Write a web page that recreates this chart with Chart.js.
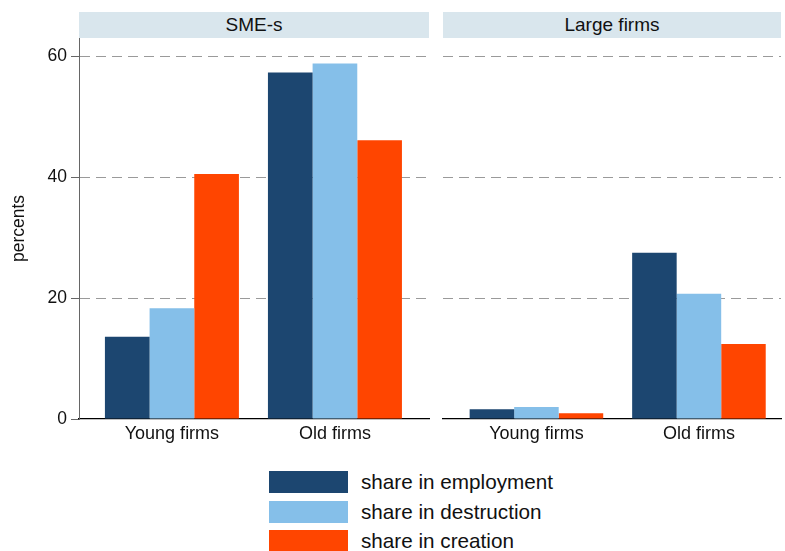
<!DOCTYPE html>
<html>
<head>
<meta charset="utf-8">
<script src="https://cdn.jsdelivr.net/npm/chart.js@4.4.1/dist/chart.umd.min.js"></script>
<style>
  body { margin: 0; background: #fff; font-family: "Liberation Sans", Arial, sans-serif; }
  #wrap { position: relative; width: 785px; height: 551px; overflow: hidden; }
  .strip { position: absolute; top: 12px; height: 26px; background: #d9e6ed; color: #111;
           font-size: 19px; line-height: 26px; text-align: center; }
  .box { position: absolute; }
  #legend { position: absolute; left: 269px; top: 471px; }
  .item { position: absolute; left: 0; width: 300px; height: 22px; }
  .sw { position: absolute; left: 0; top: 0; width: 79px; height: 22px; }
  .lab { position: absolute; left: 92px; top: -1px; font-size: 20.7px; line-height: 24px; color: #111; }
</style>
</head>
<body>
<div id="wrap">
  <div class="strip" id="h0" style="left:79px;width:350px;"></div>
  <div class="strip" id="h1" style="left:443px;width:338px;"></div>
  <div class="box" style="left:0;top:0;width:440px;height:460px;"><canvas id="c0"></canvas></div>
  <div class="box" style="left:440px;top:0;width:345px;height:460px;"><canvas id="c1"></canvas></div>
  <div id="legend"></div>
</div>
<script>
const panels = ['SME-s', 'Large firms'];
const categories = ['Young firms', 'Old firms'];
const seriesNames = ['share in employment', 'share in destruction', 'share in creation'];
const seriesColors = ['#1c4670', '#85bfe9', '#ff4500'];

// values per panel: [young, old]
const employment = { 'SME-s': [13.6, 57.3], 'Large firms': [1.6, 27.5] };
const destruction = { 'SME-s': [18.3, 58.8], 'Large firms': [2.0, 20.7] };
const creation = { 'SME-s': [40.5, 46.1], 'Large firms': [0.95, 12.4] };

const yTicks = [0, 20, 40, 60];
const yMax = 63;

const font = "'Liberation Sans', Arial, sans-serif";

function makePanel(canvasId, panel, first) {
  const series = [employment, destruction, creation];
  const datasets = series.map((s, i) => ({
    label: seriesNames[i],
    data: s[panel].map((v, j) => ({ x: j, y: v })),
    backgroundColor: seriesColors[i],
    borderWidth: 0,
    categoryPercentage: 0.822,
    barPercentage: 1.0
  }));

  return new Chart(document.getElementById(canvasId), {
    type: 'bar',
    data: { datasets },
    options: {
      responsive: true,
      maintainAspectRatio: false,
      animation: false,
      layout: { padding: first ? { left: 0, right: 11, top: 38, bottom: 0 } : { left: 3, right: 4, top: 38, bottom: 0 } },
      plugins: { legend: { display: false }, tooltip: { enabled: false } },
      scales: {
        x: {
          type: 'linear',
          offset: false,
          min: first ? -0.57 : -0.575,
          max: first ? 1.577 : 1.505,
          afterBuildTicks: (sc) => { sc.ticks = categories.map((c, j) => ({ value: j })); },
          afterFit: (sc) => { sc.height = 41; },
          ticks: {
            callback: (v) => categories[v] ?? '',
            color: '#111',
            font: { family: font, size: 18 },
            padding: 4,
            maxRotation: 0,
            autoSkip: false
          },
          grid: { display: false, drawTicks: false },
          border: { display: true, color: '#000', width: 1.3 }
        },
        y: {
          min: 0,
          max: yMax,
          afterBuildTicks: (sc) => { sc.ticks = yTicks.map(v => ({ value: v })); },
          afterFit: (sc) => { sc.width = first ? 79 : 0; },
          ticks: {
            display: first,
            color: '#111',
            font: { family: font, size: 17.5 },
            padding: 4
          },
          grid: {
            color: (ctx) => (ctx.tick && ctx.tick.value === 0) ? 'rgba(0,0,0,0)' : '#9a9a9a',
            lineWidth: 1,
            drawTicks: first,
            tickLength: 8,
            tickColor: '#666',
            tickBorderDash: []
          },
          border: { display: first, color: '#666', width: 1, dash: [10, 6] },
          title: {
            display: first,
            text: 'percents',
            color: '#111',
            font: { family: font, size: 17.5 },
            padding: { top: 9, bottom: 0 }
          }
        }
      }
    }
  });
}

document.getElementById('h0').textContent = panels[0];
document.getElementById('h1').textContent = panels[1];
makePanel('c0', panels[0], true);
makePanel('c1', panels[1], false);

const legend = document.getElementById('legend');
seriesNames.forEach((name, i) => {
  const item = document.createElement('div');
  item.className = 'item';
  item.style.top = (i * 29.5) + 'px';
  const sw = document.createElement('div');
  sw.className = 'sw';
  sw.style.background = seriesColors[i];
  const lab = document.createElement('div');
  lab.className = 'lab';
  lab.textContent = name;
  item.appendChild(sw);
  item.appendChild(lab);
  legend.appendChild(item);
});
</script>
</body>
</html>
